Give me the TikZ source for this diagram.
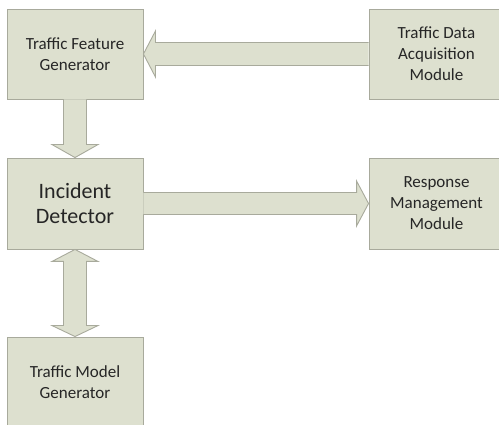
\documentclass[tikz,border=0pt]{standalone}
\usepackage{fontspec}
\setmainfont{Carlito}
\usetikzlibrary{calc}
\definecolor{boxfill}{RGB}{221,224,207}
\definecolor{bordercol}{RGB}{168,170,156}
\definecolor{txtcol}{RGB}{38,38,38}
\tikzset{
  blk/.style={draw=bordercol, fill=boxfill, line width=0.9pt, minimum width=136pt, minimum height=90pt,
    inner sep=0pt, align=center, text=txtcol, font=\fontsize{17}{21}\selectfont},
  barrow/.style={draw=bordercol, fill=boxfill, line width=0.9pt, line join=miter}
}
\begin{document}
\begin{tikzpicture}[x=1pt,y=-1pt]
\path[use as bounding box] (0,0) rectangle (499,425);
\fill[white] (0,0) rectangle (499,425);
\clip (0,0) rectangle (499,425);
\node[blk] (tfg) at (75,54) {Traffic Feature\\Generator};
\node[blk, minimum width=135pt] (tda) at (436.5,54) {Traffic Data\\Acquisition\\Module};
\node[blk, minimum height=91pt, font=\fontsize{22}{25}\selectfont] (inc) at (75,203.5) {Incident\\Detector};
\node[blk, minimum width=135pt, minimum height=91pt] (rmm) at (436.5,203.5) {Response\\Management\\Module};
\node[blk] (tmg) at (75,382) {Traffic Model\\Generator};
% arrow: acquisition -> feature generator
\draw[barrow] ($(tda.west)+(0,-11.5)$) -- ($(tfg.east)+(12,-11.5)$) -- ($(tfg.east)+(12,-23)$) -- (tfg.east)
  -- ($(tfg.east)+(12,23)$) -- ($(tfg.east)+(12,11.5)$) -- ($(tda.west)+(0,11.5)$);
% arrow: feature generator -> incident detector
\draw[barrow] ($(tfg.south)+(-11.5,0)$) -- ($(inc.north)+(-11.5,-13)$) -- ($(inc.north)+(-23,-13)$) -- (inc.north)
  -- ($(inc.north)+(23,-13)$) -- ($(inc.north)+(11.5,-13)$) -- ($(tfg.south)+(11.5,0)$);
% arrow: incident detector -> response management
\draw[barrow] ($(inc.east)+(0,-11)$) -- ($(rmm.west)+(-12,-11)$) -- ($(rmm.west)+(-12,-22.5)$) -- (rmm.west)
  -- ($(rmm.west)+(-12,22.5)$) -- ($(rmm.west)+(-12,11)$) -- ($(inc.east)+(0,11)$);
% double arrow: incident detector <-> traffic model generator
\draw[barrow] (inc.south) -- ($(inc.south)+(23,12)$) -- ($(inc.south)+(11.5,12)$) -- ($(tmg.north)+(11.5,-11)$)
  -- ($(tmg.north)+(23,-11)$) -- (tmg.north) -- ($(tmg.north)+(-23,-11)$) -- ($(tmg.north)+(-11.5,-11)$)
  -- ($(inc.south)+(-11.5,12)$) -- ($(inc.south)+(-23,12)$) -- cycle;
\end{tikzpicture}
\end{document}
